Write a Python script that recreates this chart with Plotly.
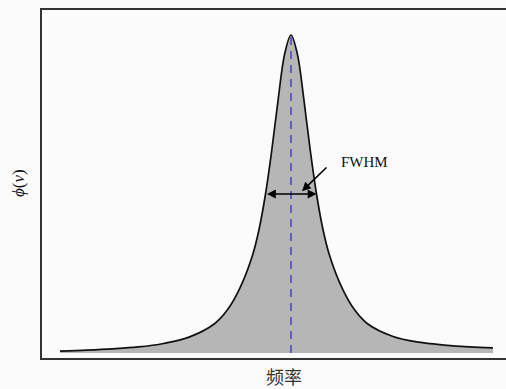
import plotly.graph_objects as go

# Frequency offset (in units of the half width) and line-shape value
freq = [-9.06, -8, -7, -6, -5, -4, -3, -2.5, -2, -1.5, -1.25, -1, -0.75, -0.5, -0.25, 0,
        0.25, 0.5, 0.75, 1, 1.25, 1.5, 2, 2.5, 3, 4, 5, 6, 7, 7.92]
phi = [0.006, 0.009, 0.013, 0.019, 0.030, 0.050, 0.092, 0.135, 0.205, 0.310, 0.390, 0.500,
       0.640, 0.800, 0.940, 1.000, 0.940, 0.800, 0.640, 0.500, 0.390, 0.310, 0.205, 0.135,
       0.092, 0.052, 0.034, 0.025, 0.019, 0.016]
center = 0.0
half_max = 0.5
fwhm_edges = [-1.0, 1.0]

fig = go.Figure()
fig.add_trace(go.Scatter(x=freq, y=phi, mode="lines", line=dict(color="#111111", width=1.7, shape="spline"),
                         fill="tozeroy", fillcolor="#b6b6b6", hoverinfo="skip"))
fig.add_trace(go.Scatter(x=[center, center], y=[0, max(phi)], mode="lines",
                         line=dict(color="#4646b8", width=1.5, dash="8px,6px"), hoverinfo="skip"))

# double-headed FWHM arrow
fig.add_annotation(x=fwhm_edges[1], y=half_max, ax=fwhm_edges[0], ay=half_max,
                   xref="x", yref="y", axref="x", ayref="y", text="", showarrow=True,
                   arrowhead=2, arrowside="end+start", arrowsize=1.1, arrowwidth=1.6, arrowcolor="#000000")
# pointer arrow
fig.add_annotation(x=0.43, y=0.509, ax=1.45, ay=0.588, xref="x", yref="y", axref="x", ayref="y",
                   text="", showarrow=True, arrowhead=2, arrowsize=1.1, arrowwidth=1.6, arrowcolor="#000000")
fig.add_annotation(x=1.88, y=0.60, xref="x", yref="y", text="FWHM", showarrow=False,
                   xanchor="left", yanchor="middle",
                   font=dict(family="Liberation Serif", size=15, color="#111111"))

# axis labels
fig.add_annotation(x=0.5216, y=-0.0517, xref="paper", yref="paper", text="频率", showarrow=False,
                   xanchor="center", yanchor="middle",
                   font=dict(family="Noto Sans CJK SC", size=18, color="#333333"))
fig.add_annotation(x=-0.0496, y=0.503, xref="paper", yref="paper", text="<i>ϕ</i>(<i>ν</i>)",
                   showarrow=False, textangle=-90, xanchor="center", yanchor="middle",
                   font=dict(family="Liberation Serif", size=17, color="#111111"))

fig.update_layout(
    width=506, height=389,
    margin=dict(l=42, r=0, t=10, b=31),
    paper_bgcolor="#fbfbfb", plot_bgcolor="#fbfbfb",
    showlegend=False,
    xaxis=dict(range=[-9.765, 8.431], showgrid=False, zeroline=False, showticklabels=False, ticks="",
               showline=True, mirror=True, linecolor="#333333", linewidth=2),
    yaxis=dict(range=[-0.0157, 1.0786], showgrid=False, zeroline=False, showticklabels=False, ticks="",
               showline=True, mirror=False, linecolor="#333333", linewidth=2),
)

fig.write_html("out.html", config={"displayModeBar": False},
               post_script="document.body.style.margin='0';document.body.style.overflow='hidden';")
